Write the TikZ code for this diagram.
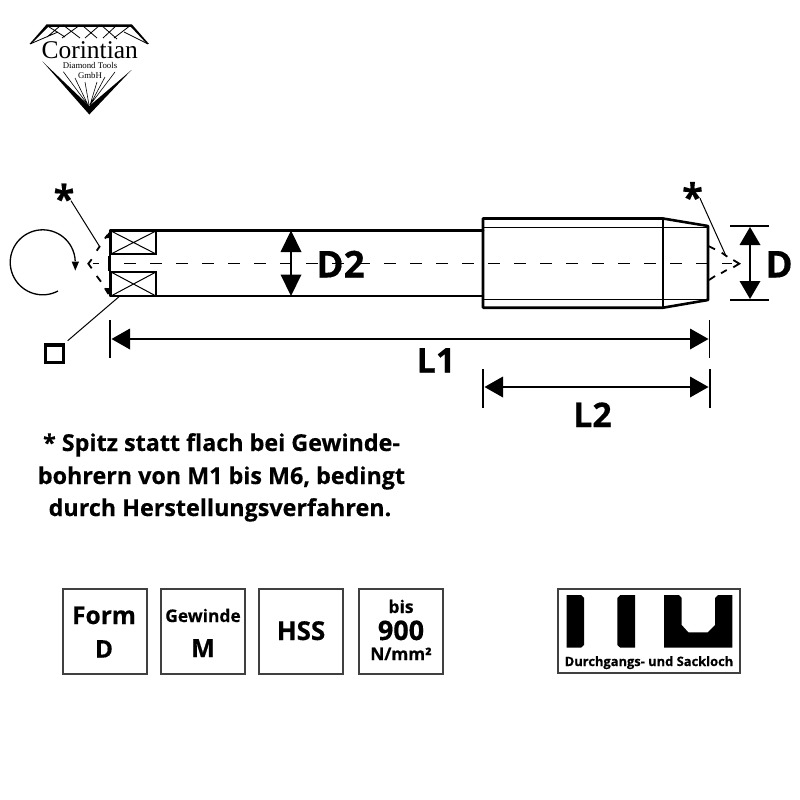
\documentclass[tikz,border=0pt]{standalone}
\usepackage{fontspec}
\setmainfont{Open Sans}[BoldFeatures={FakeBold=0.4}]
\newfontfamily\logofont{Liberation Serif}
\newcommand{\fsz}[1]{\fontsize{#1pt}{#1pt}\selectfont}
\tikzset{
 heavy/.style={line width=2.6pt,line cap=round,line join=round},
 thinl/.style={line width=1pt},
 dimline/.style={line width=2pt},
 ext/.style={line width=1.6pt},
 tiplink/.style={line width=1.8pt},
 txt/.style={inner sep=0pt,anchor=base,font=\bfseries},
 iconbox/.style={draw=black!75,line width=1.1pt,fill=none,inner sep=0pt},
}
\begin{document}
\begin{tikzpicture}[x=1pt,y=-1pt]
\useasboundingbox[fill=white] (0,0) rectangle (800,800);
% ---- logo
\fill (46.5,24.5) -- (132,24.5) -- (149,44) -- (147,44) -- (131,27) -- (48,27) -- (31,44) -- (29.5,44) -- cycle;
\draw[line width=.8pt] (46,25) -- (65,37) (60,26) -- (47,37) (63,25) -- (80,38) (80,25) -- (62,38)
 (83,26) -- (97,38) (100,25) -- (85,38) (101,25) -- (117,39) (117,25) -- (103,38) (131,25) -- (114,38)
 (30,44) -- (58,32) (148,44) -- (124,32);
\fill (42.5,61.5) -- (89.3,106) -- (131.5,70) -- (89.3,114.5) -- cycle;
\draw[line width=.6pt] (63.3,71.7) -- (88,105) (75,78) -- (88,105) (85,82) -- (89,105) (97,82) -- (90,105) (105,77) -- (90,105) (115,72) -- (90,105);
\node[inner sep=0pt,anchor=base] (logoa) at (89.8,58.5) {\logofont\fsz{25.5}Corintian};
\node[inner sep=0pt,anchor=base] (logob) at (90,68.5) {\logofont\fsz{8.8}Diamond Tools};
\node[inner sep=0pt,anchor=base] (logoc) at (90,78.5) {\logofont\fsz{8.8}GmbH};
% ---- tool body
\draw[heavy] (483,230.5) -- (110,230.5) -- (110,296) -- (483,296);
\draw[heavy] (483,218.5) -- (663,218.5) -- (708,226) -- (708,300) -- (663,307.7) -- (483,307.7) -- cycle;
\draw[heavy] (663,218.5) -- (663,307.7);
\draw[thinl] (483,227.3) -- (708,227.3) (483,299.7) -- (708,299.7);
% square end
\draw[line width=1.8pt] (111,231) rectangle (156,254) (111,272) rectangle (156,296);
\draw[thinl] (111,231) -- (156,254) (111,254) -- (156,231) (111,272) -- (156,296) (111,296) -- (156,272);
\fill (108,256) rectangle (111,270.5);
% centre line
\draw[line width=1pt,dash pattern=on 12pt off 14pt] (124,263.7) -- (732,263.7);
\draw[line width=1pt] (93,263.7) -- (99,263.7);
% left pointed tip
\draw[tiplink] (107.5,235) -- (105,238.5) (100,246) -- (96.7,250.7) (91.7,259.3) -- (88.3,263.7) -- (91.7,268.3) (96.7,276) -- (101,281.7) (105,288.3) -- (108.5,294);
\fill (110,231) -- (104.5,238) -- (110,238) -- cycle;
\fill (110,296) -- (104.5,288) -- (110,288) -- cycle;
% right pointed tip
\draw[tiplink] (708.3,246) -- (715,249.3) (721.7,252.7) -- (727.3,256.7) (733.3,260) -- (739.3,263.7) -- (733.3,267.3) (726.7,270) -- (721,273.3) (715,276) -- (709,280);
% leaders
\node[inner sep=0pt,anchor=center] (starl) at (64,198) {\bfseries\fsz{38}*};
\node[inner sep=0pt,anchor=center] (starr) at (692.5,196.5) {\bfseries\fsz{38}*};
\coordinate (lstar) at (71,200.7);
\coordinate (ltip) at (99.3,246);
\coordinate (rstar) at (700,198.3);
\coordinate (rtip) at (726,256);
\draw[thinl] (lstar) -- (ltip);
\draw[thinl] (rstar) -- (rtip);
% rotation
\draw[line width=1.3pt] (58,291) arc[start angle=-62,end angle=-358,radius=32.5pt];
\fill (71.7,261.7) -- (79,261.7) -- (75.3,270.5) -- cycle;
% square symbol
\draw[line width=3.2pt] (45.6,345) rectangle (63.4,362.4);
\coordinate (sqa) at (67.7,340.7);
\coordinate (sqb) at (119,296.7);
\draw[thinl] (sqa) -- (sqb);
% D2
\draw[dimline] (291,245) -- (291,282);
\fill (291,230.5) -- (280.5,252) -- (301.5,252) -- cycle;
\fill (291,296) -- (280.5,274.5) -- (301.5,274.5) -- cycle;
\node[txt] (dtwo) at (340.5,277.5) {\fsz{37}D2};
% D
\draw[ext] (730,226) -- (769,226) (730,300) -- (769,300);
\draw[dimline] (750,240) -- (750,286);
\fill (750,227) -- (739.5,245) -- (760.5,245) -- cycle;
\fill (750,299) -- (739.5,281) -- (760.5,281) -- cycle;
\node[txt] (dlab) at (779,277.5) {\fsz{37}D};
% L1
\draw[ext] (110,320) -- (110,358) (709.5,320) -- (709.5,358);
\draw[dimline] (125,339) -- (695,339);
\fill (111.5,339) -- (130,328.5) -- (130,349.5) -- cycle;
\fill (708.5,339) -- (690,328.5) -- (690,349.5) -- cycle;
\node[txt] (lone) at (436,372.5) {\fsz{34}L1};
% L2
\draw[ext] (483,369) -- (483,408) (710,369) -- (710,408);
\draw[dimline] (498,387) -- (695,387);
\fill (484.5,387) -- (503,376.5) -- (503,397.5) -- cycle;
\fill (708.5,387) -- (690,376.5) -- (690,397.5) -- cycle;
\node[txt] (ltwo) at (592.5,427) {\fsz{34}L2};
% note
\node[txt] (notea) at (221.5,451) {\fsz{23.3}* Spitz statt flach bei Gewinde-};
\node[txt] (noteb) at (221.5,484) {\fsz{23.3}bohrern von M1 bis M6, bedingt};
\node[txt] (notec) at (220,516) {\fsz{23.3}durch Herstellungsverfahren.};
% icon boxes
\node[iconbox,minimum width=84pt,minimum height=85pt] (boxa) at (105,631.5) {};
\node[iconbox,minimum width=84pt,minimum height=85pt] (boxb) at (203,631.5) {};
\node[iconbox,minimum width=84pt,minimum height=85pt] (boxc) at (301,631.5) {};
\node[iconbox,minimum width=84pt,minimum height=85pt] (boxd) at (401,631.5) {};
\node[iconbox,minimum width=182pt,minimum height=84pt] (boxe) at (649,631) {};
\node[txt] (forma) at (104,624) {\fsz{24.5}Form};
\node[txt] (formb) at (104,657.7) {\fsz{24.5}D};
\node[txt] (gewa) at (203,622) {\fsz{17.4}Gewinde};
\node[txt] (gewb) at (203,657) {\fsz{25}M};
\node[txt] (hss) at (301,640) {\fsz{26}HSS};
\node[txt] (bisa) at (401,613) {\fsz{17.5}bis};
\node[txt] (bisb) at (401,640) {\fsz{27}900};
\node[txt] (bisc) at (401,660) {\fsz{17.2}N/mm²};
% pictogram
\fill (566.7,595) -- (581,595) -- (584,598) -- (584,645) -- (581,647.7) -- (566.7,647.7) -- cycle;
\fill (620.3,595) -- (635,595) -- (635,647.7) -- (620.3,647.7) -- (617.3,645) -- (617.3,598) -- cycle;
\fill (664,595) -- (679,595) -- (681.7,598) -- (681.7,625) -- (688.3,632.3) -- (707.7,632.3) -- (715,625) -- (715,598) -- (718,595) -- (732.3,595) -- (732.3,647.7) -- (664,647.7) -- cycle;
\node[txt] (pict) at (649,666) {\fsz{12.9}Durchgangs- und Sackloch};
\end{tikzpicture}
\end{document}
